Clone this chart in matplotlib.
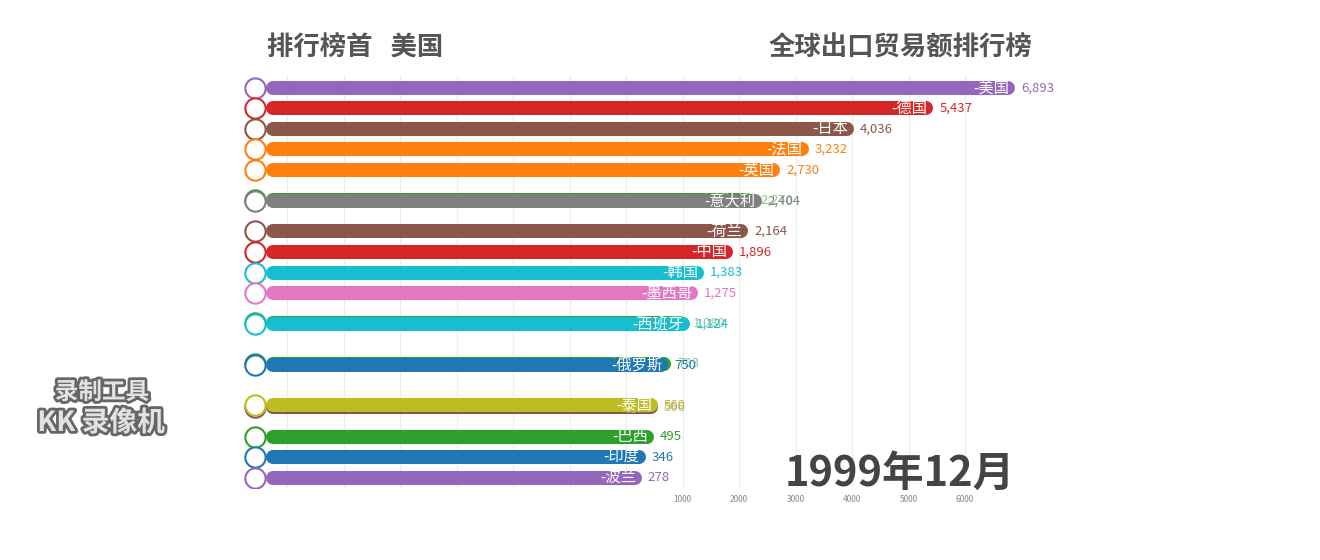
import matplotlib.pyplot as plt
import matplotlib.patheffects as pe
from matplotlib.transforms import ScaledTranslation

plt.rcParams['font.family'] = ['Noto Sans CJK SC', 'DejaVu Sans']

# ── 数据 ──────────────────────────────────────────────────────────────────────
# 绘制顺序: 被遮挡的条先画
countries = ["加拿大", "意大利", "新加坡", "西班牙", "马来西亚", "俄罗斯", "瑞士", "泰国",
             "美国", "德国", "日本", "法国", "英国", "荷兰", "中国", "韩国", "墨西哥",
             "巴西", "印度", "波兰"]
values = [2270, 2404, 1080, 1124, 793, 750, 566, 560,
          6893, 5437, 4036, 3232, 2730, 2164, 1896, 1383, 1275,
          495, 346, 278]
ranks = [5.45, 5.53, 11.45, 11.53, 13.45, 13.53, 15.57, 15.48,
         0, 1, 2, 3, 4, 7, 8, 9, 10,
         17, 18, 19]
hidden = [True, False, True, False, True, False, True, False,
          False, False, False, False, False, False, False, False, False,
          False, False, False]
colors = ["#2ca02c", "#7f7f7f", "#2ca02c", "#17becf", "#2ca02c", "#1f77b4", "#8c564b", "#bcbd22",
          "#9467bd", "#d62728", "#8c564b", "#ff7f0e", "#ff7f0e", "#8c564b", "#d62728", "#17becf",
          "#e377c2", "#2ca02c", "#1f77b4", "#9467bd"]
xticks = [1000, 2000, 3000, 4000, 5000, 6000]
grid_x = list(range(-6000, 7000, 1000))

leader = "美国"
title = "全球出口贸易额排行榜"
date_label = "1999年12月"

BAR_START = -6124
CIRCLE_X = -6566

# ── 图 ────────────────────────────────────────────────────────────────────────
fig = plt.figure(figsize=(13.2, 5.6), dpi=100)
ax = fig.add_axes([0, 1 - 488 / 560, 1, 488 / 560])
ax.set_xlim(-11080, 12283)
ax.set_ylim(19.51, -4.29)

for g in grid_x:
    ax.plot([g, g], [-0.6, 19.51], color="#ececec", lw=0.8, zorder=0)

shift = ax.transData + ScaledTranslation(-7 / 100, 0, fig.dpi_scale_trans)

for i, (name, v, r, c, h) in enumerate(zip(countries, values, ranks, colors, hidden)):
    z = 2 + i
    a = 0.55 if h else 1.0
    ax.plot([BAR_START, v], [r, r], color=c, lw=10.1, solid_capstyle="round",
            transform=shift, zorder=z)
    ax.plot(CIRCLE_X, r, "o", ms=14.6, mfc="white", mec=c, mew=1.5, zorder=z)
    ax.annotate("-" + name, (v, r), xytext=(-6, 0), textcoords="offset pixels",
                ha="right", va="center", color="white", fontsize=11, alpha=a, zorder=z)
    ax.annotate(f"{v:,}", (v, r), xytext=(6, 0), textcoords="offset pixels",
                ha="left", va="center", color=c, fontsize=9.5, alpha=a, zorder=z)

ax.set_xticks(xticks)
ax.set_xticklabels([str(t) for t in xticks])
ax.set_yticks([])
ax.tick_params(axis="x", length=0, labelsize=6, labelcolor="#888888", pad=5)
for s in ax.spines.values():
    s.set_visible(False)

fig.text(267 / 1320, 1 - 48 / 560, "排行榜首   " + leader, fontsize=19, fontweight="bold",
         color="#555555", ha="left", va="center")
fig.text(1032 / 1320, 1 - 48 / 560, title, fontsize=19, fontweight="bold",
         color="#555555", ha="right", va="center")
fig.text(1015 / 1320, 1 - 474 / 560, date_label, fontsize=30, fontweight="bold",
         color="#444444", ha="right", va="center")

# 录屏水印
stroke = [pe.withStroke(linewidth=4, foreground="#666666")]
fig.text(102 / 1320, 1 - 392 / 560, "录制工具", fontsize=17, fontweight="bold",
         color="#e2e2e2", ha="center", va="center", path_effects=stroke)
fig.text(101 / 1320, 1 - 423 / 560, "KK 录像机", fontsize=20, fontweight="bold",
         color="#e2e2e2", ha="center", va="center", path_effects=stroke)

fig.savefig("out.png", dpi=100)
